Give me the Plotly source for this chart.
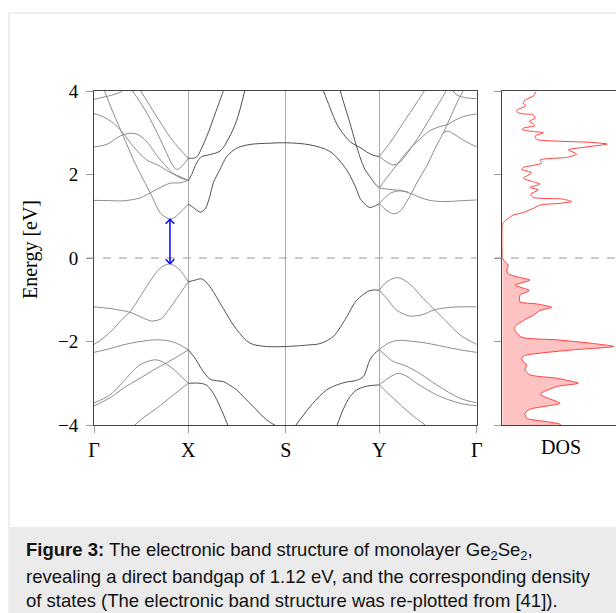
import plotly.graph_objects as go

W, H = 616, 613


def px(x):
    return x / W


def py(y):
    return 1 - y / H


# ---------------- axes / labels ----------------
K_TICKS = [0.0, 0.986, 2.004, 2.982, 4.0]
K_LABELS = ["Γ", "X", "S", "Y", "Γ"]
E_TICKS = [-4, -2, 0, 2, 4]

# ---------------- conduction bands (k, E) ----------------
CB_A_K = [0, 0.115, 0.185, 0.272, 0.314]
CB_A_E = [3.80, 3.86, 3.90, 3.97, 4.03]

CB_V_K = [0.105, 0.202, 0.306, 0.411, 0.515, 0.603, 0.690, 0.753, 0.794, 0.836,
          0.881, 0.935, 0.986, 1.038, 1.108, 1.160, 1.212, 1.247, 1.317, 1.387,
          1.492, 1.631, 1.840, 2.004, 2.258, 2.467, 2.641, 2.746, 2.780, 2.850,
          2.884, 2.919, 2.982, 3.052, 3.128, 3.198, 3.303, 3.386, 3.477, 3.564,
          3.651, 3.721, 3.794, 3.846, 3.870]
CB_V_E = [4.03, 3.47, 2.92, 2.36, 1.88, 1.49, 1.09, 0.97, 0.93, 0.96,
          1.05, 1.17, 1.29, 1.21, 1.10, 1.17, 1.49, 1.80, 2.12, 2.43,
          2.63, 2.72, 2.75, 2.76, 2.71, 2.55, 2.11, 1.63, 1.43, 1.25,
          1.21, 1.23, 1.30, 1.15, 1.06, 1.12, 1.49, 1.85, 2.20, 2.62,
          3.00, 3.35, 3.72, 3.95, 4.05]

CB_LOW_K = [0, 0.15, 0.306, 0.481, 0.620, 0.794, 0.899, 0.986]
CB_LOW_E = [1.38, 1.375, 1.37, 1.44, 1.60, 1.79, 1.80, 1.86]

CB_C_K = [0, 0.133, 0.272, 0.394, 0.481, 0.568, 0.655, 0.760, 0.829, 0.899, 0.986]
CB_C_E = [2.66, 2.72, 2.92, 2.99, 2.93, 2.74, 2.46, 2.18, 2.02, 1.92, 1.86]

CB_D_K = [0, 0.098, 0.202, 0.306, 0.411, 0.551, 0.690, 0.794, 0.899, 0.986]
CB_D_E = [3.46, 3.38, 3.23, 2.99, 2.67, 2.35, 2.20, 2.05, 1.95, 1.86]

CB_E_K = [0.394, 0.533, 0.638, 0.742, 0.815, 0.864, 0.920, 0.986]
CB_E_E = [4.03, 3.55, 3.10, 2.60, 2.25, 2.12, 2.20, 2.39]

CB_F_K = [0.481, 0.638, 0.794, 0.899, 0.986]
CB_F_E = [4.03, 3.45, 2.90, 2.60, 2.39]

CB_G_K = [0.986, 1.038, 1.073, 1.178, 1.265, 1.351, 1.370]
CB_G_E = [2.39, 2.39, 2.42, 2.91, 3.45, 3.99, 4.10]

CB_H_K = [0.986, 1.021, 1.073, 1.126, 1.178, 1.317, 1.404, 1.492, 1.578]
CB_H_E = [1.86, 2.00, 2.28, 2.43, 2.46, 2.56, 2.85, 3.30, 4.03]

CB_I_K = [2.394, 2.467, 2.540, 2.623, 2.697, 2.780, 2.850, 2.919, 2.982]
CB_I_E = [4.03, 3.60, 3.20, 2.92, 2.75, 2.65, 2.54, 2.46, 2.43]

CB_J_K = [2.571, 2.623, 2.676, 2.728, 2.780, 2.832, 2.884, 2.937, 2.982]
CB_J_E = [4.03, 3.62, 3.23, 2.80, 2.42, 2.12, 1.95, 1.78, 1.68]

CB_Y1_K = [2.982, 3.094, 3.233, 3.373, 3.460]
CB_Y1_E = [2.43, 2.76, 3.24, 3.72, 4.03]

CB_Y2_K = [2.982, 3.060, 3.128, 3.198, 3.303, 3.407, 3.512, 3.616, 3.686]
CB_Y2_E = [2.43, 2.30, 2.23, 2.30, 2.60, 2.95, 3.35, 3.75, 4.03]

CB_Y3_K = [2.982, 3.052, 3.128, 3.198, 3.303, 3.407, 3.512, 3.616, 3.700, 3.773, 3.878, 4.0]
CB_Y3_E = [1.68, 1.90, 2.12, 2.33, 2.62, 2.85, 3.05, 3.15, 3.20, 3.30, 3.40, 3.45]

CB_Y4_K = [2.982, 3.094, 3.198, 3.303, 3.407, 3.512, 3.669, 3.825, 4.0]
CB_Y4_E = [1.68, 1.64, 1.62, 1.55, 1.45, 1.38, 1.35, 1.37, 1.39]

CB_Y6_K = [2.982, 3.042, 3.115, 3.198, 3.282]
CB_Y6_E = [1.30, 1.45, 1.57, 1.61, 1.58]

CB_YC_K = [3.651, 3.700, 3.773, 3.878, 4.0]
CB_YC_E = [3.00, 3.04, 2.95, 2.80, 2.66]

CB_Y7_K = [3.742, 3.794, 3.846, 3.909, 4.0]
CB_Y7_E = [4.03, 3.90, 3.86, 3.83, 3.82]

# ---------------- valence bands (k, E) ----------------
VB_1_K = [0, 0.098, 0.202, 0.306, 0.376, 0.44, 0.515, 0.585, 0.655, 0.725,
          0.794, 0.85, 0.899, 0.986, 1.056, 1.126, 1.212, 1.351, 1.492, 1.631,
          1.805, 2.004, 2.258, 2.362, 2.501, 2.641, 2.746, 2.884, 2.982, 3.060,
          3.181, 3.303, 3.442, 3.564, 3.686, 3.825, 4.0]
VB_1_E = [-2.07, -1.92, -1.70, -1.44, -1.29, -1.08, -0.81, -0.56, -0.33, -0.19,
          -0.14, -0.20, -0.29, -0.57, -0.53, -0.50, -0.69, -1.21, -1.72, -2.04,
          -2.12, -2.12, -2.08, -2.05, -1.88, -1.41, -1.01, -0.78, -0.77, -0.57,
          -0.47, -0.63, -0.97, -1.25, -1.53, -1.84, -2.07]

VB_2_K = [0, 0.167, 0.342, 0.376, 0.44, 0.515, 0.603, 0.690, 0.724, 0.794, 0.864, 0.986]
VB_2_E = [-1.17, -1.21, -1.28, -1.30, -1.36, -1.44, -1.51, -1.47, -1.41, -1.20, -0.97, -0.57]

VB_2Y_K = [2.982, 3.060, 3.164, 3.303, 3.442, 3.546, 3.686, 3.825, 4.0]
VB_2Y_E = [-0.77, -0.97, -1.25, -1.39, -1.35, -1.25, -1.19, -1.17, -1.17]

VB_3_K = [0, 0.167, 0.306, 0.481, 0.655, 0.794, 0.899, 0.986, 1.056, 1.142,
          1.212, 1.282, 1.351, 1.421, 1.492, 1.578, 1.665, 1.805, 1.910]
VB_3_E = [-2.26, -2.17, -2.08, -2.00, -1.96, -1.99, -2.08, -2.20, -2.40, -2.72,
          -2.90, -2.94, -2.96, -3.05, -3.16, -3.36, -3.56, -3.88, -4.03]

VB_4_K = [0, 0.167, 0.306, 0.481, 0.655, 0.794, 0.986, 1.108, 1.178, 1.247, 1.317, 1.404]
VB_4_E = [-3.47, -3.28, -2.96, -2.56, -2.44, -2.60, -3.00, -3.00, -3.05, -3.24, -3.56, -4.03]

VB_5_K = [0, 0.167, 0.306, 0.481, 0.655, 0.829, 0.986]
VB_5_E = [-3.54, -3.35, -3.12, -2.88, -2.64, -2.42, -2.20]

VB_6_K = [0.411, 0.530, 0.655, 0.829, 0.986]
VB_6_E = [-4.03, -3.80, -3.60, -3.28, -3.00]

VB_7_K = [2.101, 2.258, 2.362, 2.432, 2.537, 2.641, 2.746, 2.815, 2.884, 2.937, 2.982]
VB_7_E = [-4.03, -3.56, -3.30, -3.16, -3.04, -2.97, -2.93, -2.84, -2.44, -2.28, -2.19]

VB_8_K = [2.537, 2.606, 2.676, 2.746, 2.850, 2.982]
VB_8_E = [-4.03, -3.62, -3.32, -3.16, -3.07, -3.04]

VB_9_K = [2.982, 3.094, 3.198, 3.303, 3.477, 3.651, 3.825, 4.0]
VB_9_E = [-2.19, -2.02, -1.97, -1.99, -2.04, -2.12, -2.20, -2.26]

VB_10_K = [2.982, 3.128, 3.233, 3.373, 3.582, 3.825, 4.0]
VB_10_E = [-2.19, -2.48, -2.56, -2.72, -3.04, -3.36, -3.47]

VB_11_K = [2.982, 3.094, 3.181, 3.282, 3.373, 3.582, 3.825, 4.0]
VB_11_E = [-3.04, -2.85, -2.76, -2.85, -3.00, -3.28, -3.48, -3.54]

VB_12_K = [2.982, 3.128, 3.303, 3.477]
VB_12_E = [-3.04, -3.36, -3.72, -4.03]

# ---------------- band gap ----------------
GAP_K = 0.794
VBM_E = -0.14
CBM_E = 0.93

# ---------------- density of states ----------------
DOS_C_E = [3.98, 3.88, 3.78, 3.70, 3.65, 3.54, 3.49, 3.45, 3.43, 3.35,
           3.27, 3.23, 3.17, 3.11, 3.07, 3.03, 3.00, 2.92, 2.84, 2.80,
           2.77, 2.73, 2.67, 2.59, 2.49, 2.41, 2.35, 2.27, 2.17, 2.12,
           2.04, 1.91, 1.83, 1.77, 1.69, 1.63, 1.53, 1.45, 1.41, 1.35,
           1.31, 1.27, 1.19, 1.09, 1.03, 0.95, 0.85, 0.79, 0.0]
DOS_C_D = [0.337, 0.31, 0.227, 0.21, 0.237, 0.144, 0.15, 0.21, 0.31, 0.327,
           0.27, 0.30, 0.327, 0.21, 0.204, 0.31, 0.41, 0.327, 0.344, 0.544,
           0.877, 1.05, 0.877, 0.66, 0.744, 0.644, 0.377, 0.394, 0.21, 0.194,
           0.294, 0.21, 0.304, 0.377, 0.277, 0.36, 0.284, 0.31, 0.61, 0.694,
           0.577, 0.377, 0.31, 0.21, 0.11, 0.06, 0.01, 0.0, 0.0]

DOS_V_E = [0.0, -0.09, -0.17, -0.29, -0.38, -0.45, -0.53, -0.65, -0.78, -0.89,
           -1.05, -1.10, -1.18, -1.26, -1.37, -1.50, -1.64, -1.74, -1.90, -1.96,
           -2.04, -2.12, -2.20, -2.35, -2.44, -2.56, -2.68, -2.80, -2.88, -3.00,
           -3.08, -3.26, -3.36, -3.48, -3.62, -3.72, -3.84, -3.92, -3.98, -4.05]
DOS_V_D = [0.0, 0.027, 0.06, 0.044, 0.06, 0.144, 0.277, 0.127, 0.27, 0.177,
           0.177, 0.344, 0.494, 0.377, 0.31, 0.21, 0.127, 0.127, 0.194, 0.544,
           0.877, 1.117, 0.71, 0.21, 0.194, 0.244, 0.227, 0.277, 0.544, 0.76,
           0.544, 0.377, 0.46, 0.577, 0.277, 0.227, 0.244, 0.444, 0.577, 0.60]

CAPTION = [
    "<b>Figure 3:</b> The electronic band structure of monolayer Ge<sub>2</sub>Se<sub>2</sub>,",
    "revealing a direct bandgap of 1.12 eV, and the corresponding density",
    "of states (The electronic band structure was re-plotted from [41]).",
]

BANDS = [
    (CB_A_K, CB_A_E), (CB_V_K, CB_V_E), (CB_LOW_K, CB_LOW_E), (CB_C_K, CB_C_E),
    (CB_D_K, CB_D_E), (CB_E_K, CB_E_E), (CB_F_K, CB_F_E), (CB_G_K, CB_G_E),
    (CB_H_K, CB_H_E), (CB_I_K, CB_I_E), (CB_J_K, CB_J_E), (CB_Y1_K, CB_Y1_E),
    (CB_Y2_K, CB_Y2_E), (CB_Y3_K, CB_Y3_E), (CB_Y4_K, CB_Y4_E), (CB_Y6_K, CB_Y6_E),
    (CB_YC_K, CB_YC_E), (CB_Y7_K, CB_Y7_E),
    (VB_1_K, VB_1_E), (VB_2_K, VB_2_E), (VB_2Y_K, VB_2Y_E), (VB_3_K, VB_3_E),
    (VB_4_K, VB_4_E), (VB_5_K, VB_5_E), (VB_6_K, VB_6_E), (VB_7_K, VB_7_E),
    (VB_8_K, VB_8_E), (VB_9_K, VB_9_E), (VB_10_K, VB_10_E), (VB_11_K, VB_11_E),
    (VB_12_K, VB_12_E),
]

LIGHT = "#8c8c8c"
DARK = "#505050"


def pieces(ks, es):
    out = []
    cur_k, cur_e, cur_dark = [ks[0]], [es[0]], None
    for i in range(1, len(ks)):
        mid = 0.5 * (ks[i - 1] + ks[i])
        dark = K_TICKS[1] - 1e-6 <= mid <= K_TICKS[3] + 1e-6
        if cur_dark is None:
            cur_dark = dark
        if dark != cur_dark:
            out.append((cur_k, cur_e, cur_dark))
            cur_k, cur_e = [ks[i - 1]], [es[i - 1]]
            cur_dark = dark
        cur_k.append(ks[i])
        cur_e.append(es[i])
    out.append((cur_k, cur_e, cur_dark))
    return out


fig = go.Figure()

for ks, es in BANDS:
    for pk, pe, dark in pieces(ks, es):
        fig.add_trace(go.Scatter(
            x=pk, y=pe, mode="lines", xaxis="x", yaxis="y",
            line=dict(color=DARK if dark else LIGHT, width=1, shape="spline", smoothing=0.9),
            hoverinfo="skip", showlegend=False))

# DOS
fig.add_trace(go.Scatter(
    x=DOS_C_D, y=DOS_C_E, mode="lines", xaxis="x2", yaxis="y2",
    line=dict(color="#ff4040", width=1, shape="spline", smoothing=0.6),
    hoverinfo="skip", showlegend=False))
fig.add_trace(go.Scatter(
    x=DOS_V_D, y=DOS_V_E, mode="lines", xaxis="x2", yaxis="y2", fill="tozerox",
    fillcolor="rgba(255,120,120,0.45)",
    line=dict(color="#ff4040", width=1, shape="spline", smoothing=0.6),
    hoverinfo="skip", showlegend=False))

serif = "Liberation Serif"
AX_LINE = "#444444"
TICK_C = "#9a9a9a"

x0_band, x1_band = 94, 476.7
x0_dos = 502.3
y_top, y_bot = 91, 425

shapes = [
    dict(type="rect", xref="paper", yref="paper", x0=px(9), x1=px(640), y0=py(13), y1=py(640),
         line=dict(color="#dcdcdc", width=1), fillcolor="rgba(0,0,0,0)", layer="below"),
    dict(type="rect", xref="paper", yref="paper", x0=px(9.5), x1=px(640), y0=py(527), y1=py(640),
         line=dict(width=0), fillcolor="#ebebeb", layer="below"),
    dict(type="line", xref="paper", yref="y", x0=px(87), x1=px(x1_band), y0=0, y1=0,
         line=dict(color="#9a9a9a", width=1, dash="8px,8px")),
    dict(type="line", xref="paper", yref="y2", x0=px(495), x1=1, y0=0, y1=0,
         line=dict(color="#9a9a9a", width=1, dash="8px,8px")),
    dict(type="line", xref="x", yref="y", x0=GAP_K, x1=GAP_K, y0=VBM_E, y1=CBM_E,
         line=dict(color="#0000ff", width=1.5)),
]
hw, hh = 0.045, 0.11
shapes.append(dict(type="path", xref="x", yref="y",
                   path=f"M {GAP_K - hw},{CBM_E - hh} L {GAP_K},{CBM_E} L {GAP_K + hw},{CBM_E - hh}",
                   line=dict(color="#0000ff", width=1.4)))
shapes.append(dict(type="path", xref="x", yref="y",
                   path=f"M {GAP_K - hw},{VBM_E + hh} L {GAP_K},{VBM_E} L {GAP_K + hw},{VBM_E + hh}",
                   line=dict(color="#0000ff", width=1.4)))

annotations = [
    dict(text="Energy [eV]", xref="paper", yref="paper", x=px(30), y=py(250),
         textangle=-90, showarrow=False, font=dict(family=serif, size=20, color="black"),
         xanchor="center", yanchor="middle"),
    dict(text="DOS", xref="paper", yref="paper", x=px(561), y=py(447),
         showarrow=False, font=dict(family=serif, size=20, color="black"),
         xanchor="center", yanchor="middle"),
]
for line, yc in zip(CAPTION, [551, 576, 600]):
    annotations.append(dict(text=line, xref="paper", yref="paper", x=px(24), y=py(yc),
                            showarrow=False, xanchor="left", yanchor="middle",
                            font=dict(family="Liberation Sans", size=18.5, color="#111111")))

fig.update_layout(
    width=W, height=H, margin=dict(l=0, r=0, t=0, b=0, pad=0, autoexpand=False),
    autosize=False,
    paper_bgcolor="white", plot_bgcolor="white",
    showlegend=False,
    xaxis=dict(domain=[px(x0_band), px(x1_band)], range=[0, 4], tickvals=K_TICKS,
               ticktext=K_LABELS, ticks="outside", ticklen=7, tickcolor=TICK_C,
               showgrid=True, gridcolor="#ababab", gridwidth=1, zeroline=False,
               showline=True, linecolor=AX_LINE, linewidth=1, mirror=True,
               tickfont=dict(family=serif, size=20, color="black"), anchor="y"),
    yaxis=dict(domain=[py(y_bot), py(y_top)], range=[-4, 4], tickvals=E_TICKS,
               ticks="outside", ticklen=7, tickcolor=TICK_C, showgrid=False,
               zeroline=False, showline=True, linecolor=AX_LINE, linewidth=1,
               mirror=True, tickfont=dict(family=serif, size=19, color="black"),
               ticklabelstandoff=4, anchor="x"),
    xaxis2=dict(domain=[px(x0_dos), 1.0], range=[0, (W - x0_dos) / 100], showticklabels=False,
                ticks="", showgrid=False, zeroline=False, showline=True,
                linecolor=AX_LINE, linewidth=1, mirror=True, anchor="y2"),
    yaxis2=dict(domain=[py(y_bot), py(y_top)], range=[-4, 4], tickvals=E_TICKS,
                ticks="outside", ticklen=7, tickcolor=TICK_C, showticklabels=False,
                showgrid=False, zeroline=False, showline=True, linecolor=AX_LINE,
                linewidth=1, mirror=False, anchor="x2"),
    shapes=shapes, annotations=annotations,
)

fig.write_html("out.html")
